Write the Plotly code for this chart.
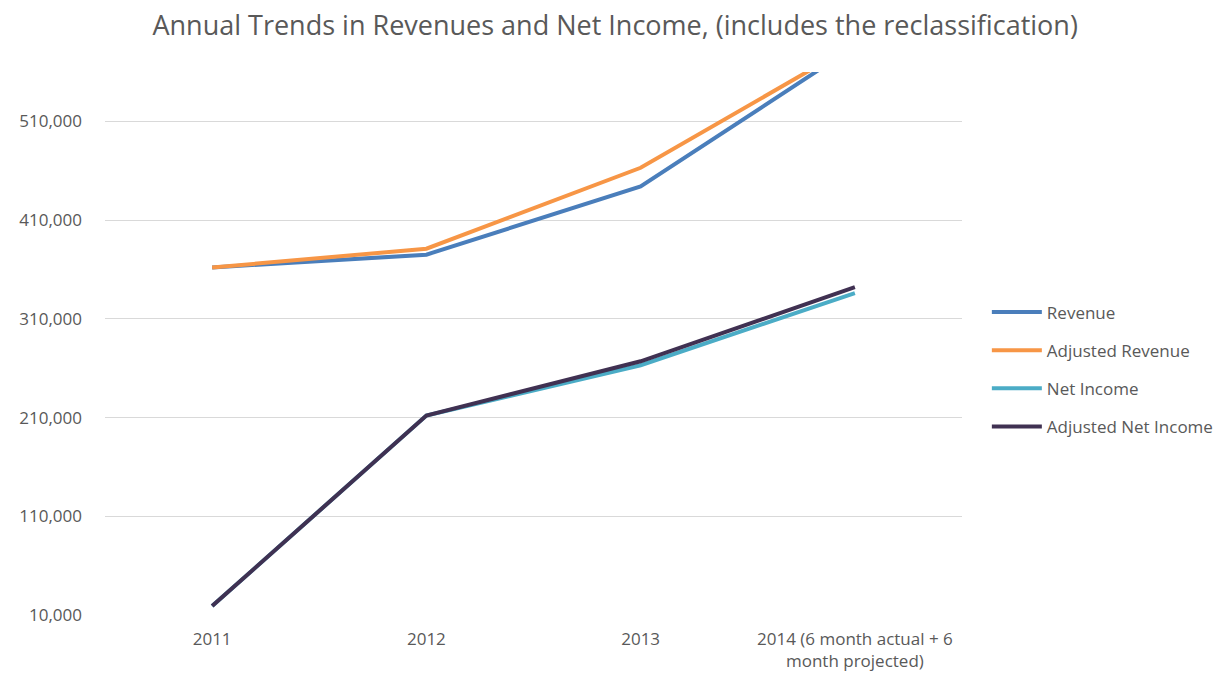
import plotly.graph_objects as go

categories = ["2011", "2012", "2013", "2014 (6 month actual + 6<br>month projected)"]
revenue = [362000, 375000, 444000, 586000]
adjusted_revenue = [362000, 381000, 463000, 588000]
net_income = [19000, 212000, 263000, 336000]
adjusted_net_income = [19000, 212000, 267000, 342000]

tick_vals = [10000, 110000, 210000, 310000, 410000, 510000]
tick_text = ["10,000", "110,000", "210,000", "310,000", "410,000", "510,000"]

series = [
    ("Revenue", revenue, "#4a7ebb"),
    ("Adjusted Revenue", adjusted_revenue, "#f79646"),
    ("Net Income", net_income, "#4bacc6"),
    ("Adjusted Net Income", adjusted_net_income, "#403152"),
]

fig = go.Figure()
for i, (name, vals, color) in enumerate(series):
    fig.add_trace(go.Scatter(
        x=list(range(len(categories))), y=vals, name=name, mode="lines",
        line=dict(color=color, width=4), legendgroup=f"g{i}",
    ))

font_family = "Open Sans, Noto Sans, sans-serif"
fig.update_layout(
    width=1223, height=677,
    margin=dict(l=105, r=261, t=72, b=62, autoexpand=False),
    paper_bgcolor="white", plot_bgcolor="white",
    title=dict(text="Annual Trends in Revenues and Net Income, (includes the reclassification)",
               x=0.503, xanchor="center", y=0.962, yanchor="middle",
               font=dict(family=font_family, size=27, color="#595959")),
    font=dict(family=font_family, size=17, color="#595959"),
    showlegend=True,
    legend=dict(x=1.029, xanchor="left", y=0.452, yanchor="middle",
                font=dict(family=font_family, size=17, color="#595959"),
                tracegroupgap=13, itemwidth=50, bgcolor="rgba(0,0,0,0)"),
    xaxis=dict(tickmode="array", tickvals=list(range(len(categories))), ticktext=categories,
               range=[-0.5, 3.5], showgrid=False, zeroline=False, showline=False,
               ticks="", ticklabelstandoff=12, tickfont=dict(size=17, color="#595959")),
    yaxis=dict(range=[10000, 560000], tickmode="array", tickvals=tick_vals, ticktext=tick_text,
               showgrid=True, gridcolor="#d9d9d9", gridwidth=1, zeroline=False,
               showline=False, ticks="", ticklabelstandoff=22,
               tickfont=dict(size=17, color="#595959")),
)

fig.write_html("out.html")
